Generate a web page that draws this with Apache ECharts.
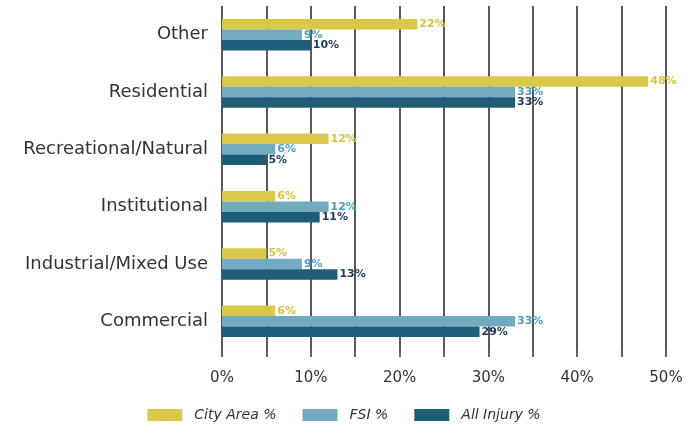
<!DOCTYPE html>
<html>
<head>
<meta charset="utf-8">
<script src="https://cdn.jsdelivr.net/npm/echarts@6/dist/echarts.min.js"></script>
<style>
html,body{margin:0;padding:0;background:#fff;}
#c{width:688px;height:428px;}
</style>
</head>
<body>
<div id="c"></div>
<script>
const categories = ['Other', 'Residential', 'Recreational/Natural', 'Institutional', 'Industrial/Mixed Use', 'Commercial'];
const seriesNames = ['City Area %', 'FSI %', 'All Injury %'];
const cityArea = [22, 48, 12, 6, 5, 6];
const fsi = [9, 33, 6, 12, 9, 33];
const allInjury = [10, 33, 5, 11, 13, 29];
const xTicks = [0, 10, 20, 30, 40, 50];

const barColors = ['#d9c84a', '#72aac0', '#1f5e78'];
const labelColors = ['#d6c546', '#4d9fc1', '#1d3b58'];
const values = [cityArea, fsi, allInjury];
const FONT = '"DejaVu Sans", sans-serif';

const chart = echarts.init(document.getElementById('c'));
chart.setOption({
  backgroundColor: '#fff',
  animation: false,
  textStyle: { fontFamily: FONT },
  grid: { left: 222, right: 22, top: 6, bottom: 78 },
  xAxis: {
    type: 'value', min: 0, max: 50, interval: 5,
    axisLine: { show: false },
    axisTick: { show: true, length: 7, lineStyle: { color: '#333', width: 1.5 } },
    splitLine: { show: true, lineStyle: { color: '#222', width: 1.5 } },
    axisLabel: {
      margin: 21, fontSize: 15, color: '#333', fontFamily: FONT,
      formatter: v => xTicks.includes(v) ? v + '%' : ''
    }
  },
  yAxis: {
    type: 'category', data: categories, inverse: true,
    axisLine: { show: false }, axisTick: { show: false },
    axisLabel: { fontSize: 18, color: '#333', margin: 14, fontFamily: FONT, padding: [4, 0, 0, 0] }
  },
  legend: {
    bottom: 1, left: 'center', itemWidth: 35, itemHeight: 12, itemGap: 26,
    icon: 'rect',
    textStyle: { fontSize: 14, fontStyle: 'italic', color: '#333', padding: [0, 0, 0, 7], fontFamily: FONT },
    data: seriesNames
  },
  series: seriesNames.map((name, i) => ({
    name, type: 'bar', data: values[i],
    barWidth: 10.5, barGap: '0%',
    itemStyle: { color: barColors[i] },
    label: {
      show: true, position: 'right', distance: 2,
      formatter: '{c}%', fontSize: 11, fontWeight: 'bold', color: labelColors[i], fontFamily: FONT
    }
  }))
});
</script>
</body>
</html>
